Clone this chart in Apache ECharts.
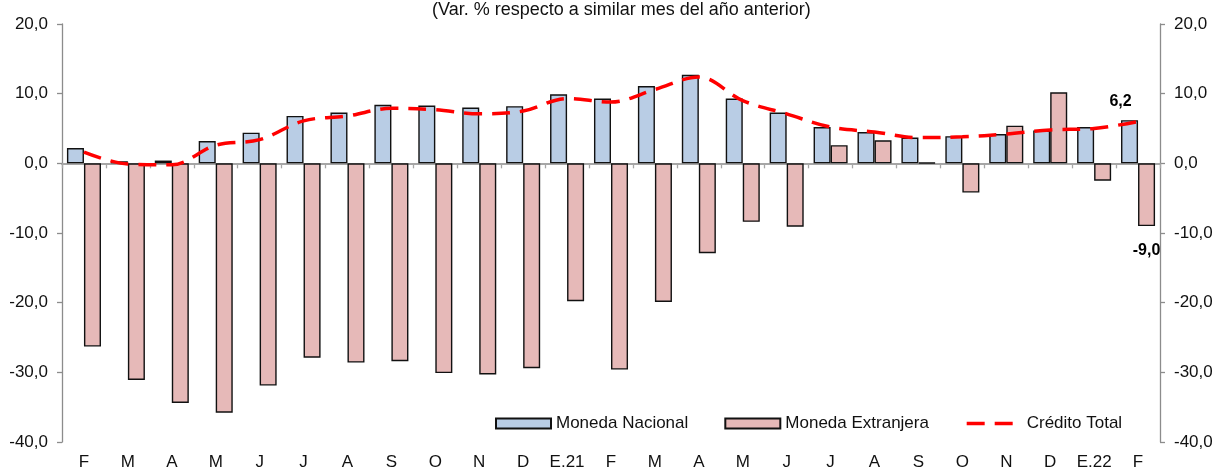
<!DOCTYPE html>
<html>
<head>
<meta charset="utf-8">
<script src="https://cdn.jsdelivr.net/npm/echarts@6/dist/echarts.min.js"></script>
<style>
  html, body { margin: 0; padding: 0; background: #fff; }
  #chart { width: 1217px; height: 471px; }
</style>
</head>
<body>
<div id="chart"></div>
<script>
const months = ['F', 'M', 'A', 'M', 'J', 'J', 'A', 'S', 'O', 'N', 'D', 'E.21',
  'F', 'M', 'A', 'M', 'J', 'J', 'A', 'S', 'O', 'N', 'D', 'E.22', 'F']

const monedaNacional = [2.2, 0.3, 0.4, 3.2, 4.4, 6.8, 7.3, 8.4, 8.3, 8.0, 8.2, 9.9,
  9.3, 11.1, 12.7, 9.3, 7.3, 5.2, 4.5, 3.7, 3.9, 4.2, 4.7, 5.2, 6.2]

const monedaExtranjera = [-26.3, -31.1, -34.4, -35.8, -31.9, -27.9, -28.6, -28.4, -30.1, -30.3, -29.4, -19.8,
  -29.6, -19.9, -12.9, -8.4, -9.1, 2.6, 3.3, 0.1, -4.2, 5.4, 10.2, -2.5, -9.0]

const creditoTotal = [1.6, -0.1, -0.2, 2.6, 3.4, 6.1, 6.8, 7.9, 7.7, 7.1, 7.5, 9.3,
  8.8, 10.6, 12.4, 9.0, 7.1, 5.2, 4.5, 3.7, 3.8, 4.2, 4.8, 5.0, 6.0]

const yTicks = { min: -40, max: 20, interval: 10 }

const font = 'Liberation Sans, Arial, sans-serif'
const fmt = (v) => v.toFixed(1).replace('.', ',')
const last = months.length - 1

const chart = echarts.init(document.getElementById('chart'))

const yAxisBase = {
  type: 'value',
  min: yTicks.min,
  max: yTicks.max,
  interval: yTicks.interval,
  splitLine: { show: false },
  axisLine: { show: true, lineStyle: { color: '#8c8c8c', width: 1.3 } },
  axisTick: { show: true, length: 5, lineStyle: { color: '#8c8c8c', width: 1.3 } },
  axisLabel: { margin: 14, color: '#111', fontSize: 17, fontFamily: font, formatter: fmt },
}

const dashed = { color: '#ff0000', width: 3.5, type: [18, 10] }

const option = {
  animation: false,
  title: {
    text: '(Var. % respecto a similar mes del año anterior)',
    left: 432,
    top: 1,
    padding: 0,
    textStyle: { fontSize: 18, fontWeight: 'normal', color: '#111', fontFamily: font },
  },
  legend: {
    left: 495,
    top: 415,
    padding: 0,
    itemWidth: 55,
    itemHeight: 10,
    itemGap: 36,
    textStyle: { fontSize: 17, color: '#111', fontFamily: font },
    data: [
      { name: 'Moneda Nacional', icon: 'rect' },
      { name: 'Moneda Extranjera', icon: 'rect' },
      { name: 'Crédito Total', itemStyle: { opacity: 0 }, lineStyle: dashed },
    ],
  },
  grid: { left: 62, right: 57, top: 24, bottom: 27 },
  xAxis: [
    {
      type: 'category',
      data: months,
      axisLine: { onZero: true, lineStyle: { color: '#a6a6a6', width: 2 } },
      axisTick: { show: true, length: 5, lineStyle: { color: '#a6a6a6', width: 1.3 } },
      axisLabel: { show: false },
    },
    {
      type: 'category',
      data: months,
      position: 'bottom',
      axisLine: { show: false, onZero: false },
      axisTick: { show: false },
      axisLabel: { interval: 0, margin: 12, color: '#111', fontSize: 17, fontFamily: font },
    },
  ],
  yAxis: [
    Object.assign({}, yAxisBase, { position: 'left' }),
    Object.assign({}, yAxisBase, { position: 'right' }),
  ],
  series: [
    {
      name: 'Moneda Nacional',
      type: 'bar',
      barGap: '0%',
      barCategoryGap: '22.5%',
      data: monedaNacional.map((v, i) => i === last ? {
        value: v,
        label: {
          show: true, position: 'top', distance: 11, offset: [-9, 0],
          fontWeight: 'bold', fontSize: 16, color: '#000', fontFamily: font,
          formatter: (p) => fmt(p.value),
        },
      } : v),
      itemStyle: { color: '#b9cde5', borderColor: '#111', borderWidth: 1.4 },
    },
    {
      name: 'Moneda Extranjera',
      type: 'bar',
      barGap: '0%',
      barCategoryGap: '22.5%',
      data: monedaExtranjera.map((v, i) => i === last ? {
        value: v,
        label: {
          show: true, position: 'bottom', distance: 17,
          fontWeight: 'bold', fontSize: 16, color: '#000', fontFamily: font,
          formatter: (p) => fmt(p.value),
        },
      } : v),
      itemStyle: { color: '#e6b9b8', borderColor: '#111', borderWidth: 1.4 },
    },
    {
      name: 'Crédito Total',
      type: 'line',
      smooth: 0.35,
      showSymbol: false,
      symbol: 'none',
      z: 5,
      data: creditoTotal,
      lineStyle: dashed,
      itemStyle: { color: '#ff0000' },
    },
  ],
}

chart.setOption(option)
</script>
</body>
</html>
